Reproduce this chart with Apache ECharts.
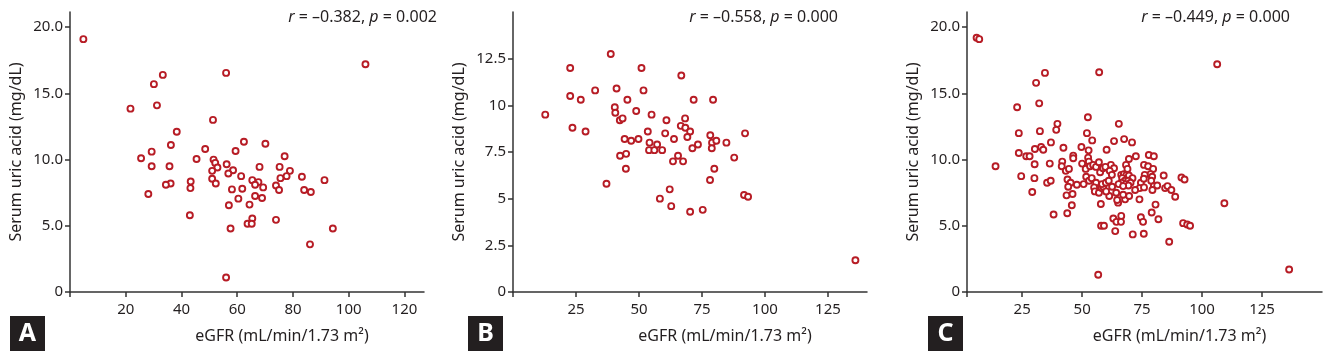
<!DOCTYPE html>
<html>
<head>
<meta charset="utf-8">
<script src="https://cdn.jsdelivr.net/npm/echarts@6/dist/echarts.min.js"></script>
<style>
html, body { margin: 0; padding: 0; background: #fff; }
#chart { width: 1325px; height: 352px; }
</style>
</head>
<body>
<div id="chart"></div>
<script>
// panel A
var egfrA = [4.8, 106, 33.3, 56, 30.1, 21.7, 31.2, 51.3, 38.3, 36.2, 62.4, 70.1, 48.5, 59.4, 29.3, 25.5, 45.4, 51.5, 77, 56.2,
  52.1, 52.9, 29.3, 35.7, 68, 75.2, 51, 58.5, 56.8, 78.9, 61.4, 77.7, 83.2, 75.5, 51, 65.4, 91.3, 67.6, 66.4, 52.3,
  43.3, 36.1, 34.4, 43.2, 69.3, 73.9, 58.1, 61.8, 75, 84, 86.4, 28.1, 66.4, 60.4, 68.9, 64.4, 57, 43, 65.4, 63.7,
  65.2, 73.9, 57.6, 94.3, 86.1, 56];
var uricA = [19.1, 17.2, 16.4, 16.55, 15.7, 13.85, 14.1, 13.0, 12.1, 11.1, 11.35, 11.2, 10.8, 10.65, 10.6, 10.1, 10.05, 10.0, 10.25, 9.65,
  9.75, 9.4, 9.5, 9.5, 9.45, 9.45, 9.15, 9.2, 8.95, 9.15, 8.75, 8.75, 8.7, 8.6, 8.55, 8.45, 8.45, 8.3, 8.1, 8.2,
  8.35, 8.2, 8.1, 7.85, 7.9, 8.05, 7.75, 7.8, 7.7, 7.7, 7.55, 7.4, 7.25, 7.05, 7.1, 6.6, 6.55, 5.8, 5.55, 5.15,
  5.15, 5.45, 4.8, 4.8, 3.6, 1.1];

// panel B
var egfrB = [12.8, 22.7, 22.7, 23.6, 26.9, 28.8, 32.6, 38.8, 37.1, 41.1, 40.4, 40.6, 42.4, 43.5, 45.4, 48.9, 44.3, 46.9, 49.8, 42.5,
  44.9, 44.8, 51, 51.8, 55, 53.5, 54.2, 54, 56.1, 57.2, 59.2, 60.4, 60.9, 63.9, 63.5, 65.5, 67.5, 58.3, 62.2, 62.8,
  66.8, 66.6, 68.4, 68.3, 70.3, 69.2, 71.2, 73.4, 71.7, 70.3, 75.3, 79.4, 78.3, 79, 78.9, 80.7, 84.7, 79.9, 78.2, 87.8,
  92.1, 91.7, 93.3, 135.9];
var uricB = [9.5, 12.0, 10.5, 8.8, 10.3, 8.6, 10.8, 12.75, 5.8, 10.9, 9.9, 9.6, 9.2, 9.3, 10.3, 9.7, 8.2, 8.1, 8.2, 7.3,
  7.4, 6.6, 12.0, 10.8, 9.5, 8.6, 8.0, 7.6, 7.6, 7.9, 7.6, 8.5, 9.2, 8.2, 7.0, 7.3, 7.0, 5.0, 5.5, 4.6,
  11.6, 8.9, 8.8, 9.3, 8.6, 8.3, 7.7, 7.9, 10.3, 4.3, 4.4, 10.3, 8.4, 8.0, 7.7, 8.1, 8.0, 6.6, 6.0, 7.2,
  8.5, 5.2, 5.1, 1.7];

// panel C
var egfrC = [6, 7.1, 106.3, 30.8, 34.5, 57.1, 22.9, 32.1, 13.9, 109.3, 136.3, 56.7,
  52.4, 39.7, 39.2, 32.4, 23.6, 52, 54.2, 37, 49.7, 42.2, 32.9, 33.8, 30.3, 52.7, 23.6, 26.7, 28.1, 46.3,
  46.3, 52.5, 30.2, 36.5, 41.7, 41.5, 43.2, 44.5, 50, 51.5, 52.8, 53.3, 54.6, 55.8, 57, 57.5, 58.7, 24.6,
  30.1, 35.4, 36.9, 29.2, 43.9, 45.2, 44.2, 47.8, 50.6, 51.7, 52.9, 54, 55.8, 55, 55.3, 57, 58.1, 58.8,
  43.5, 46, 45.7, 57.8, 38.1, 43.8, 57.9, 59.1,
  65.3, 63.3, 67.5, 70.8, 60.2, 77.8, 79.9, 72.4, 69.5, 62, 59.7, 63.3, 61.5, 62.4, 68.3, 75.8, 77.5, 79.6,
  78.5, 76.1, 79.2, 78.8, 84, 74.5, 74, 75.8, 79.9, 81.3, 79.3, 84.6, 85.6, 87.2, 88.8, 91.4, 92.7, 72.1,
  73.9, 80.6, 79, 81.8, 92.1, 93.8, 95, 74.5, 75.4, 75.7, 71.1, 86.3, 63.8, 63, 64.3, 66.3, 66.2, 65,
  64.6, 67.9, 67.1, 69.6, 64.2, 61.3, 60, 58.3, 62.5, 59.9, 61.1, 66.3, 67.4, 68.5, 69.5, 71, 66.7, 67.8,
  69.2, 70.2, 66.4, 65.2, 68.2, 69.3, 67.1, 68.9, 75.7];
var uricC = [19.2, 19.1, 17.2, 15.8, 16.55, 16.6, 13.95, 14.25, 9.5, 6.7, 1.7, 1.3,
  13.2, 12.7, 12.25, 12.15, 12.0, 12.0, 11.45, 11.3, 10.95, 10.9, 10.95, 10.75, 10.8, 10.7, 10.5, 10.25, 10.25, 10.3,
  10.1, 10.15, 9.65, 9.7, 9.85, 9.5, 9.15, 9.3, 9.7, 9.3, 9.85, 9.5, 9.6, 9.45, 9.8, 9.05, 9.35, 8.75,
  8.6, 8.25, 8.4, 7.55, 8.5, 8.25, 7.95, 8.1, 8.15, 8.7, 8.4, 8.6, 8.25, 7.9, 7.6, 7.5, 7.85, 7.95,
  7.3, 7.4, 6.55, 6.65, 5.85, 5.95, 5.0, 5.0,
  12.7, 11.4, 11.55, 11.3, 10.75, 10.35, 10.25, 10.25, 10.05, 9.6, 9.45, 9.35, 9.15, 8.85, 9.6, 9.6, 9.5, 9.3,
  8.9, 8.85, 8.7, 8.4, 8.8, 8.25, 7.85, 7.9, 8.0, 8.05, 7.7, 7.85, 8.0, 7.7, 7.2, 8.65, 8.5, 7.7,
  7.0, 6.6, 6.0, 5.5, 5.2, 5.1, 5.0, 5.65, 5.3, 4.4, 4.35, 3.8, 4.6, 5.55, 5.3, 5.75, 5.3, 6.75,
  6.95, 7.0, 7.35, 7.25, 7.5, 7.25, 7.6, 8.15, 7.95, 8.25, 8.4, 8.85, 8.9, 8.85, 8.8, 8.6, 8.6, 8.4,
  8.4, 8.25, 8.25, 8.15, 8.15, 8.05, 8.0, 9.3, 8.55];

// axis ticks and labels
var xTicksA = [20, 40, 60, 80, 100, 120];
var xTicksB = [25, 50, 75, 100, 125];
var xTicksC = [25, 50, 75, 100, 125];
var yTicksA = [0, 5, 10, 15, 20];
var yTicksB = [0, 2.5, 5, 7.5, 10, 12.5];
var yTicksC = [0, 5, 10, 15, 20];
var statR = ['\u20130.382', '\u20130.558', '\u20130.449'];
var statP = ['0.002', '0.000', '0.000'];
var panelLetters = ['A', 'B', 'C'];

var FONT = '"Noto Sans", "Open Sans", sans-serif';
var TXT = '#231f20';
var AXIS = '#333333';
var RED = '#b71c25';

function pairs(xs, ys) {
    var out = [];
    for (var i = 0; i < xs.length; i++) {
        out.push([xs[i], ys[i]]);
    }
    return out;
}

function fmtOne(v) { return v === 0 ? '0' : v.toFixed(1); }
function fmtPlain(v) { return String(v); }

function makeX(idx, min, max, ticks) {
    return {
        type: 'value', gridIndex: idx, min: min, max: max,
        name: 'eGFR (mL/min/1.73 m\u00B2)', nameLocation: 'middle', nameGap: 36,
        nameTextStyle: { fontFamily: FONT, fontSize: 16, color: TXT, padding: [0, 0, 0, 70] },
        axisLine: { show: true, onZero: false, lineStyle: { color: AXIS, width: 1.5 } },
        axisTick: { show: true, length: 5, customValues: [min].concat(ticks), lineStyle: { color: AXIS, width: 1.5 } },
        axisLabel: { customValues: ticks, fontFamily: FONT, fontSize: 15, color: TXT, margin: 10 },
        splitLine: { show: false }
    };
}

function makeY(idx, max, ticks, fmt) {
    return {
        type: 'value', gridIndex: idx, min: 0, max: max,
        name: 'Serum uric acid (mg/dL)', nameLocation: 'middle', nameGap: 46,
        nameTextStyle: { fontFamily: FONT, fontSize: 16, color: TXT },
        axisLine: { show: true, onZero: false, lineStyle: { color: AXIS, width: 1.5 } },
        axisTick: { show: true, length: 5, customValues: ticks, lineStyle: { color: AXIS, width: 1.5 } },
        axisLabel: { customValues: ticks, formatter: fmt, fontFamily: FONT, fontSize: 15, color: TXT, margin: 7 },
        splitLine: { show: false }
    };
}

function makeSeries(idx, data) {
    return {
        type: 'scatter', xAxisIndex: idx, yAxisIndex: idx, data: data,
        symbol: 'circle', symbolSize: 6,
        itemStyle: { color: '#fff', borderColor: RED, borderWidth: 1.9, opacity: 1 },
        emphasis: { disabled: true }, animation: false
    };
}

var gridPos = [
    { left: 70, right: 901, top: 12, bottom: 60 },
    { left: 513, right: 458, top: 12, bottom: 60 },
    { left: 967, right: 3, top: 12, bottom: 60 }
];
var statRight = [437, 838, 1290];
var letterLeft = [10, 468, 928];

var graphics = [];
for (var i = 0; i < 3; i++) {
    graphics.push({
        type: 'text', x: statRight[i], y: 17,
        style: {
            text: '{i|r} = ' + statR[i] + ', {i|p} = ' + statP[i],
            font: '16px ' + FONT, fill: TXT, align: 'right', verticalAlign: 'middle',
            rich: { i: { fontStyle: 'italic', fontFamily: FONT, fontSize: 16, fill: TXT } }
        }
    });
    graphics.push({
        type: 'rect', x: letterLeft[i], y: 316,
        shape: { width: 35, height: 35 }, style: { fill: '#231f20' }
    });
    graphics.push({
        type: 'text', x: letterLeft[i] + 17.5, y: 334,
        style: { text: panelLetters[i], font: 'bold 25px ' + FONT, fill: '#fff', align: 'center', verticalAlign: 'middle' }
    });
}

var chart = echarts.init(document.getElementById('chart'));
chart.setOption({
    animation: false,
    grid: gridPos,
    xAxis: [makeX(0, 0, 127, xTicksA), makeX(1, 0, 140.5, xTicksB), makeX(2, 2, 150, xTicksC)],
    yAxis: [makeY(0, 21.15, yTicksA, fmtOne), makeY(1, 15, yTicksB, fmtPlain), makeY(2, 21.15, yTicksC, fmtOne)],
    series: [makeSeries(0, pairs(egfrA, uricA)), makeSeries(1, pairs(egfrB, uricB)), makeSeries(2, pairs(egfrC, uricC))],
    graphic: graphics
});
</script>
</body>
</html>
